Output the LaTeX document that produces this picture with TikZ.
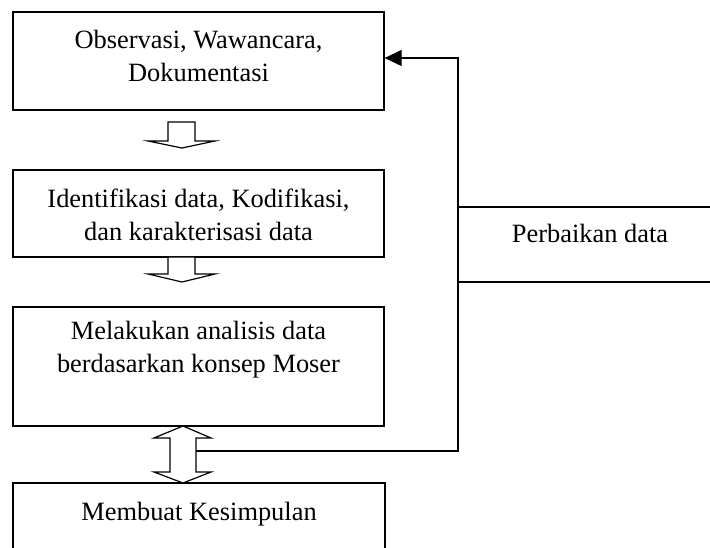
\documentclass[tikz,border=0pt]{standalone}
\usepackage{fontspec}
\setmainfont{Liberation Serif}
\usetikzlibrary{arrows.meta}
\begin{document}
\begin{tikzpicture}[x=1pt,y=-1pt,
  boxline/.style={draw=black,line width=1.3pt},
  lbl/.style={anchor=base,inner sep=0pt,font=\fontsize{26.4}{33}\selectfont},
  hollow/.style={draw=black,fill=white,line width=1.2pt,line join=miter},
  conn/.style={draw=black,line width=1.3pt}]
\useasboundingbox (0,0) rectangle (710,548);
% boxes
\node[boxline,minimum width=371pt,minimum height=98pt,inner sep=0pt] (b1) at (198.5,61) {};
\node[boxline,minimum width=371pt,minimum height=87pt,inner sep=0pt] (b2) at (198.5,213.5) {};
\node[boxline,minimum width=371pt,minimum height=119pt,inner sep=0pt] (b3) at (198.5,366.5) {};
% clipped boxes
\begin{scope}
\clip (0,0) rectangle (710,548);
\node[boxline,minimum width=372pt,minimum height=100pt,inner sep=0pt] (b4) at (199,533) {};
\node[boxline,minimum width=300pt,minimum height=75pt,inner sep=0pt] (b5) at (608,244.5) {};
\end{scope}
% texts
\node[lbl] (t1a) at (198.5,49) {Observasi, Wawancara,};
\node[lbl] (t1b) at (198.5,82) {Dokumentasi};
\node[lbl] (t2a) at (198.5,208) {Identifikasi data, Kodifikasi,};
\node[lbl] (t2b) at (198.5,241) {dan karakterisasi data};
\node[lbl] (t3a) at (198.5,339) {Melakukan analisis data};
\node[lbl] (t3b) at (198.5,372) {berdasarkan konsep Moser};
\node[lbl] (t4) at (199,520) {Membuat Kesimpulan};
\node[lbl] (t5) at (590,243) {Perbaikan data};
% hollow arrows
\draw[hollow] (168,122) -- (195,122) -- (195,141) -- (215,141) -- (182,148) -- (148,141) -- (168,141) -- cycle;
\draw[hollow] (168,257) -- (195,257) -- (195,274) -- (215,274) -- (182,282) -- (148,274) -- (168,274) -- cycle;
\draw[hollow] (183,426) -- (211,438) -- (196,438) -- (196,472) -- (211,472) -- (183,483) -- (154,472) -- (170,472) -- (170,438) -- (154,438) -- cycle;
% feedback connector
\coordinate (da) at (196,451);
\coordinate (c1) at (458,451);
\coordinate (c2) at (458,58);
\coordinate (e1) at (b1.east |- c2);
\draw[conn,-{Triangle[length=17pt,width=16pt]}] (da) -- (c1) -- (c2) -- (e1);
\end{tikzpicture}
\end{document}
